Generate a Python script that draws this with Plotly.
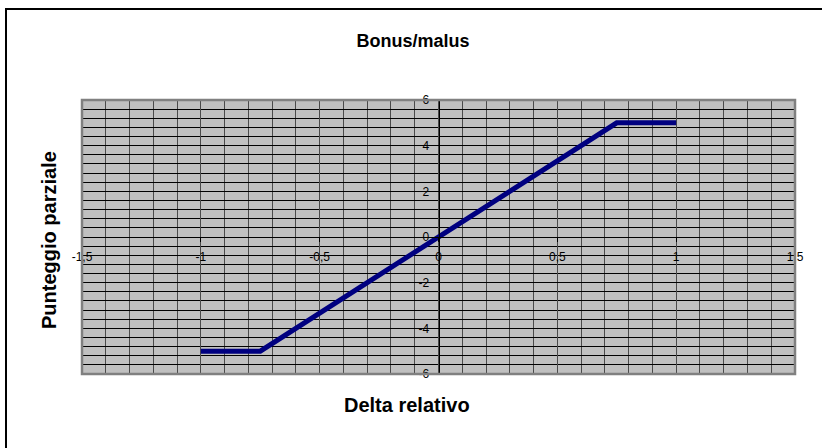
import plotly.graph_objects as go

# Data
delta = [-1.0, -0.75, 0.75, 1.0]
punteggio = [-5, -5, 5, 5]

x_tickvals = [-1.5, -1.0, -0.5, 0.0, 0.5, 1.0, 1.5]
x_ticktext = ["-1,5", "-1", "-0,5", "0", "0,5", "1", "1,5"]
y_tickvals = [-6, -4, -2, 0, 2, 4, 6]
y_ticktext = ["-6", "-4", "-2", "0", "2", "4", "6"]

title_text = "Bonus/malus"
x_title = "Delta relativo"
y_title = "Punteggio parziale"

FONT = "Liberation Sans, Arial, sans-serif"
W, H = 822, 448
L, R, T, B = 82, 27, 100, 74
pw, ph = W - L - R, H - T - B

fig = go.Figure()
fig.add_trace(go.Scatter(
    x=delta, y=punteggio, mode="lines",
    line=dict(color="#000080", width=5),
    showlegend=False, hoverinfo="x+y",
))

fig.update_layout(
    width=W, height=H,
    margin=dict(l=L, r=R, t=T, b=B),
    paper_bgcolor="white",
    plot_bgcolor="#c0c0c0",
    font=dict(family=FONT, color="#000000", size=12),
    title=dict(text="<b>" + title_text + "</b>", x=413 / W, xanchor="center",
               y=1 - 41 / H, yanchor="middle",
               font=dict(family=FONT, size=18, color="#000000")),
    xaxis=dict(
        range=[-1.5, 1.5], tickmode="array", tickvals=x_tickvals, ticktext=x_ticktext,
        showgrid=True, gridcolor="#4a4a4a", gridwidth=1.3,
        minor=dict(tickmode="linear", tick0=0, dtick=0.1, showgrid=True,
                   gridcolor="#4a4a4a", gridwidth=1.3),
        zeroline=False, showline=True, linecolor="#000000", linewidth=1,
        ticks="outside", ticklen=4, tickcolor="#000000",
        anchor="free", position=0.5, ticklabelstandoff=5,
        tickfont=dict(size=12, family=FONT, color="#000000"),
    ),
    yaxis=dict(
        range=[-6, 6], tickmode="array", tickvals=y_tickvals, ticktext=y_ticktext,
        showgrid=True, gridcolor="#000000", gridwidth=1,
        minor=dict(tickmode="linear", tick0=0, dtick=0.4, showgrid=True,
                   gridcolor="#000000", gridwidth=1),
        zeroline=False, showline=True, linecolor="#000000", linewidth=1,
        ticks="outside", ticklen=4, tickcolor="#000000",
        anchor="free", position=0.5, ticklabelstandoff=3,
        tickfont=dict(size=12, family=FONT, color="#000000"),
    ),
    shapes=[
        dict(type="rect", xref="x domain", yref="y domain", x0=0, x1=1, y0=0, y1=1,
             line=dict(color="#808080", width=2.5), fillcolor="rgba(0,0,0,0)", layer="above"),
        dict(type="rect", xref="paper", yref="paper",
             x0=(6 - L) / pw, x1=2, y0=-1, y1=(H - B - 9) / ph,
             line=dict(color="#000000", width=2), fillcolor="rgba(0,0,0,0)"),
    ],
    annotations=[
        dict(text="<b>" + x_title + "</b>", xref="paper", yref="paper",
             x=(407 - L) / pw, y=(H - B - 405) / ph, xanchor="center", yanchor="middle",
             showarrow=False, font=dict(family=FONT, size=20, color="#000000")),
        dict(text="<b>" + y_title + "</b>", xref="paper", yref="paper",
             x=(49 - L) / pw, y=(H - B - 240) / ph, xanchor="center", yanchor="middle",
             textangle=-90, showarrow=False, font=dict(family=FONT, size=20, color="#000000")),
    ],
)

fig.write_html("out.html", config={"displayModeBar": False},
               post_script="document.body.style.margin='0';document.body.style.overflow='hidden';")
